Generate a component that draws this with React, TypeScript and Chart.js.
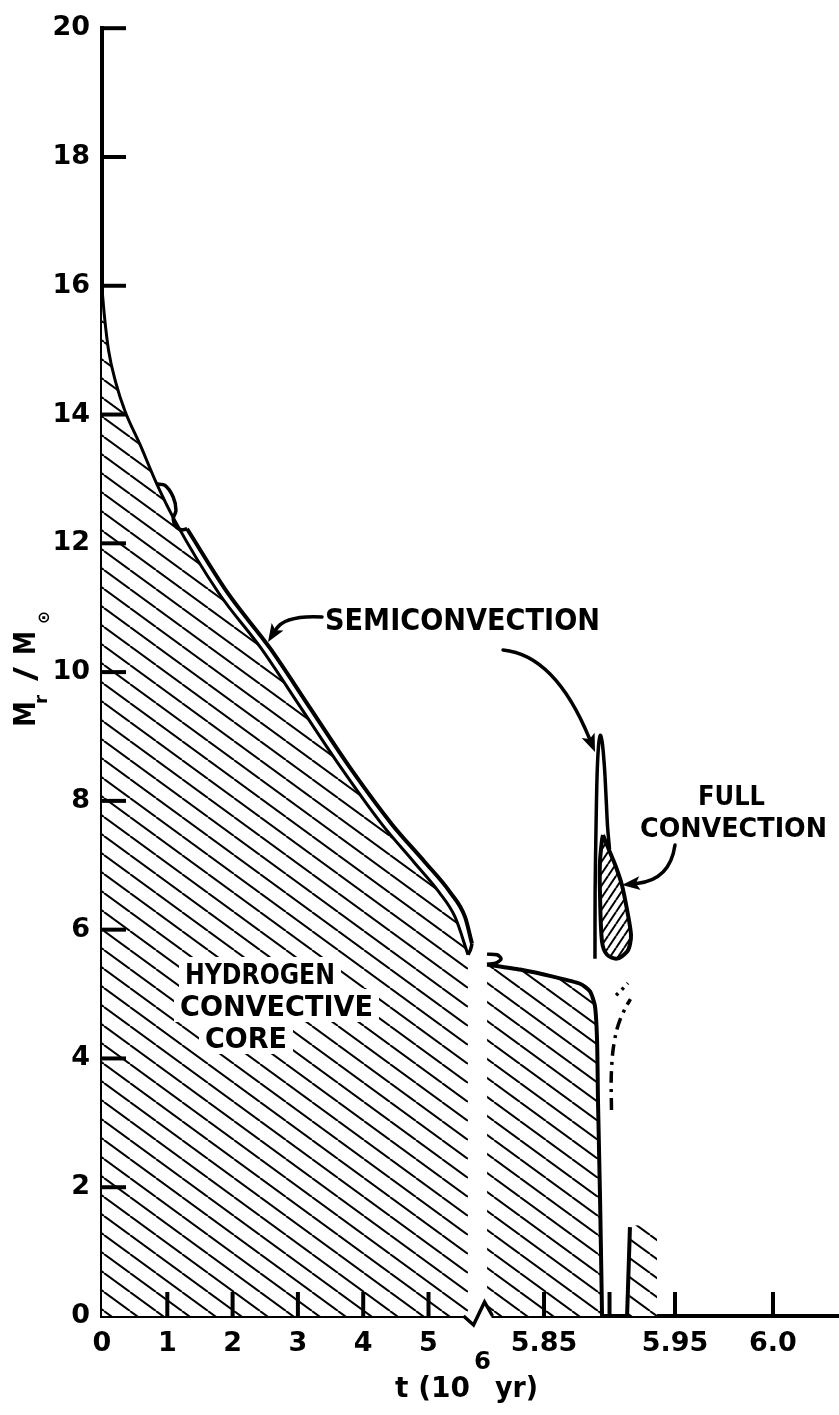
import React, { useEffect, useRef } from 'react';
import { Chart, registerables } from 'chart.js';

Chart.register(...registerables);

const W = 839;
const H = 1415;

// ---- broken time axis (t in 10^6 yr -> axis unit u) ----
const BREAK_T = 5.75;
const SEG2_T0 = 5.85;
const SEG2_U0 = 6.769;
const SEG2_RATE = 20.06;
const SEG3_T0 = 5.95;
const SEG3_U0 = 8.775;
const SEG3_RATE = 30.0;
const X_MAX_U = 11.286;
const BREAK_U = 5.72;

function toU(t: number): number {
  if (t <= BREAK_T) return t;
  if (t <= SEG3_T0) return SEG2_U0 + (t - SEG2_T0) * SEG2_RATE;
  return SEG3_U0 + (t - SEG3_T0) * SEG3_RATE;
}

// ---- ticks ----
const X_TICK_T = [0, 1, 2, 3, 4, 5, 5.85, 5.9, 5.95, 6.0];
const X_TICK_LABELS = ['0', '1', '2', '3', '4', '5', '5.85', '', '5.95', '6.0'];
const Y_TICK_VALUES = [0, 2, 4, 6, 8, 10, 12, 14, 16, 18, 20];

// ---- hydrogen convective core, main-sequence part (inner boundary) ----
const CORE1_T = [0, 0.04, 0.1, 0.21, 0.35, 0.58, 0.84, 1.118, 1.792, 2.435, 3.047, 3.66, 4.288, 4.778, 5.161, 5.406, 5.605];
const CORE1_M = [15.95, 15.5, 15.0, 14.5, 14.06, 13.54, 12.92, 12.349, 11.221, 10.371, 9.444, 8.516, 7.635, 7.048, 6.584, 6.198, 5.611];

// ---- semiconvection outer boundary, main-sequence part ----
const SEMI_LOOP_T = [0.84, 0.965, 1.09, 1.133, 1.09, 1.14, 1.22, 1.302];
const SEMI_LOOP_M = [12.92, 12.9, 12.72, 12.51, 12.38, 12.25, 12.21, 12.226];
const SEMI1_T = [1.302, 1.93, 2.573, 3.185, 3.798, 4.441, 4.946, 5.329, 5.559, 5.666];
const SEMI1_M = [12.226, 11.221, 10.371, 9.444, 8.516, 7.635, 7.048, 6.584, 6.198, 5.781];
const SEMI_TIP_T = [5.666, 5.64, 5.605];
const SEMI_TIP_M = [5.781, 5.68, 5.611];

// ---- core after the axis break ----
const CORE2_T = [5.8065, 5.8317, 5.8569, 5.8775, 5.8851, 5.8889, 5.8905, 5.8912, 5.8928, 5.8943];
const CORE2_M = [5.46, 5.38, 5.27, 5.16, 5.04, 4.81, 4.27, 3.34, 1.79, 0];

// small hook on top of the core after the break
const HOOK_T = [5.8065, 5.8141, 5.8172, 5.8141, 5.8065];
const HOOK_M = [5.62, 5.61, 5.55, 5.49, 5.46];

// ---- late small convective core ----
const SMALL_T = [5.915, 5.9363];
const SMALL_M = [1.4, 1.42];
const EDGE_T = [5.9134, 5.9156];
const EDGE_M = [0, 1.38];

// ---- semiconvective spike ----
const SPIKE_T = [5.8889, 5.889, 5.8897, 5.8905, 5.8916, 5.893, 5.8945, 5.8962, 5.8975, 5.8985, 5.9];
const SPIKE_M = [5.55, 6.6, 7.6, 8.4, 8.85, 9.02, 8.9, 8.5, 8.0, 7.6, 7.25];

// ---- full convection (closed loop) ----
const FULL_T = [5.895, 5.9004, 5.905, 5.9095, 5.9141, 5.9164, 5.9156, 5.9134, 5.9057, 5.8981, 5.8943, 5.8927, 5.8927, 5.8943, 5.895];
const FULL_M = [7.47, 7.2, 6.97, 6.69, 6.23, 5.92, 5.77, 5.66, 5.55, 5.61, 5.81, 6.58, 7.05, 7.4, 7.47];

// ---- dash-dot and dotted boundaries ----
const DASHDOT_T = [5.9015, 5.9013, 5.9025, 5.905, 5.908, 5.913, 5.916];
const DASHDOT_M = [3.2, 3.7, 4.1, 4.4, 4.6, 4.82, 4.92];
const DOT_T = [5.905, 5.9095, 5.9141];
const DOT_M = [4.98, 5.07, 5.17];

const FONT = 'DejaVu Sans';

function pts(t: number[], m: number[]) {
  return t.map((tt, i) => ({ x: toU(tt), y: m[i] }));
}

function makeHatch(w: number, h: number, dir: 'down' | 'up', lw: number): CanvasPattern | string {
  const c = document.createElement('canvas');
  c.width = w;
  c.height = h;
  const g = c.getContext('2d');
  if (!g) return '#fff';
  g.fillStyle = '#fff';
  g.fillRect(0, 0, w, h);
  g.strokeStyle = '#000';
  g.lineWidth = lw;
  for (const k of [-1, 0, 1]) {
    g.beginPath();
    if (dir === 'down') {
      g.moveTo(k * w, 0);
      g.lineTo(k * w + w, h);
    } else {
      g.moveTo(k * w, h);
      g.lineTo(k * w + w, 0);
    }
    g.stroke();
  }
  return g.createPattern(c, 'repeat') || '#fff';
}

function fitText(ctx: CanvasRenderingContext2D, s: string, left: number, baseline: number, width: number, size: number) {
  ctx.save();
  ctx.font = `bold ${size}px "${FONT}"`;
  const m = ctx.measureText(s).width;
  ctx.translate(left, baseline);
  ctx.scale(width / m, 1);
  ctx.textAlign = 'left';
  ctx.textBaseline = 'alphabetic';
  ctx.fillStyle = '#000';
  ctx.fillText(s, 0, 0);
  ctx.restore();
}

function arrow(ctx: CanvasRenderingContext2D, p0: number[], c: number[], p1: number[], head = 18, half = 7) {
  const dx = p1[0] - c[0];
  const dy = p1[1] - c[1];
  const len = Math.hypot(dx, dy);
  const ux = dx / len;
  const uy = dy / len;
  const bx = p1[0] - ux * head;
  const by = p1[1] - uy * head;
  ctx.save();
  ctx.strokeStyle = '#000';
  ctx.fillStyle = '#000';
  ctx.lineWidth = 3.5;
  ctx.lineCap = 'round';
  ctx.beginPath();
  ctx.moveTo(p0[0], p0[1]);
  ctx.quadraticCurveTo(c[0], c[1], bx + ux * 3, by + uy * 3);
  ctx.stroke();
  ctx.beginPath();
  ctx.moveTo(p1[0], p1[1]);
  ctx.lineTo(bx - uy * half, by + ux * half);
  ctx.lineTo(bx + ux * 4, by + uy * 4);
  ctx.lineTo(bx + uy * half, by - ux * half);
  ctx.closePath();
  ctx.fill();
  ctx.restore();
}

const decorPlugin = {
  id: 'decor',
  afterDraw(chart: any) {
    const { ctx, chartArea } = chart;
    const xs = chart.scales.x;
    const ys = chart.scales.y;
    const left = chartArea.left;
    const bottom = chartArea.bottom;
    ctx.save();
    ctx.strokeStyle = '#000';
    ctx.lineWidth = 4;
    ctx.lineCap = 'butt';
    // inward tick marks
    for (const v of Y_TICK_VALUES) {
      if (v === 0) continue;
      const py = ys.getPixelForValue(v);
      ctx.beginPath();
      ctx.moveTo(left, py);
      ctx.lineTo(left + 24, py);
      ctx.stroke();
    }
    for (const t of X_TICK_T) {
      if (t === 0) continue;
      const px = xs.getPixelForValue(toU(t));
      ctx.beginPath();
      ctx.moveTo(px, bottom);
      ctx.lineTo(px, bottom - 24);
      ctx.stroke();
    }
    // axis break zigzag
    const bx = xs.getPixelForValue(BREAK_U);
    ctx.fillStyle = '#fff';
    ctx.fillRect(bx - 10, bottom - 4, 26, 8);
    ctx.lineWidth = 3.5;
    ctx.lineJoin = 'miter';
    ctx.beginPath();
    ctx.moveTo(bx - 12, bottom);
    ctx.lineTo(bx - 2, bottom + 9);
    ctx.lineTo(bx + 9, bottom - 14);
    ctx.lineTo(bx + 17, bottom);
    ctx.stroke();

    // core label with white background
    const lines = [
      { s: 'HYDROGEN', l: 185, b: 984, w: 150 },
      { s: 'CONVECTIVE', l: 180, b: 1016, w: 193 },
      { s: 'CORE', l: 205, b: 1048, w: 82 },
    ];
    ctx.fillStyle = '#fff';
    for (const ln of lines) ctx.fillRect(ln.l - 6, ln.b - 27, ln.w + 12, 33);
    for (const ln of lines) fitText(ctx, ln.s, ln.l, ln.b, ln.w, 28);

    fitText(ctx, 'SEMICONVECTION', 325, 630, 275, 30);
    fitText(ctx, 'FULL', 698, 805, 67, 26);
    fitText(ctx, 'CONVECTION', 640, 837, 187, 26);

    arrow(ctx, [322, 617], [285, 615], [268, 642]);
    arrow(ctx, [503, 650], [555, 655], [595, 752]);
    arrow(ctx, [675, 845], [670, 880], [622, 885]);

    // x axis title: t (10^6 yr)
    fitText(ctx, 't (10', 395, 1397, 75, 28);
    fitText(ctx, '6', 474, 1369, 17, 24);
    fitText(ctx, 'yr)', 495, 1397, 43, 28);

    // y axis title: M_r / M_sun (rotated)
    ctx.save();
    ctx.translate(35, 727);
    ctx.rotate(-Math.PI / 2);
    fitText(ctx, 'M', 0, 0, 26, 30);
    fitText(ctx, 'r', 23, 12, 9, 18);
    fitText(ctx, '/', 46, 0, 14, 30);
    fitText(ctx, 'M', 72, 0, 24, 30);
    fitText(ctx, '\u2299', 103, 14, 13, 16);
    ctx.restore();

    ctx.restore();
  },
};

export default function App() {
  const ref = useRef<HTMLCanvasElement>(null);

  useEffect(() => {
    if (!ref.current) return;
    const hatchCore = makeHatch(26, 19, 'down', 2);
    const hatchFull = makeHatch(8, 12, 'up', 2);
    const base = { borderColor: '#000', pointRadius: 0, tension: 0.3, fill: false };
    const mono = { cubicInterpolationMode: 'monotone' };

    const chart = new Chart(ref.current, {
      type: 'line',
      data: {
        datasets: [
          { ...base, ...mono, data: pts(SEMI1_T, SEMI1_M), borderWidth: 4 },
          { ...base, data: pts(SEMI_LOOP_T, SEMI_LOOP_M), borderWidth: 3.5 },
          { ...base, data: pts(SEMI_TIP_T, SEMI_TIP_M), borderWidth: 3.5 },
          { ...base, data: pts(HOOK_T, HOOK_M), borderWidth: 3.5 },
          { ...base, data: pts(SPIKE_T, SPIKE_M), borderWidth: 3.5 },
          { ...base, data: pts(FULL_T, FULL_M), borderWidth: 4, fill: 'shape', backgroundColor: hatchFull },
          { ...base, data: pts(DASHDOT_T, DASHDOT_M), borderWidth: 3.5, borderDash: [12, 6, 3, 6] },
          { ...base, data: pts(DOT_T, DOT_M), borderWidth: 3.5, borderDash: [3, 5] },
          { ...base, data: pts(EDGE_T, EDGE_M), borderWidth: 4, tension: 0 },
          { ...base, data: pts(SMALL_T, SMALL_M), borderWidth: 0, borderColor: 'rgba(0,0,0,0)', tension: 0, fill: 'origin', backgroundColor: hatchCore },
          { ...base, data: pts(CORE2_T, CORE2_M), borderWidth: 4, tension: 0.2, fill: 'origin', backgroundColor: hatchCore },
          { ...base, ...mono, data: pts(CORE1_T, CORE1_M), borderWidth: 3, fill: 'origin', backgroundColor: hatchCore },
        ],
      },
      options: {
        animation: false,
        responsive: false,
        maintainAspectRatio: false,
        layout: { padding: { top: 22, right: 0, left: 0, bottom: 0 } },
        plugins: {
          legend: { display: false },
          tooltip: { enabled: false },
          title: { display: false },
        },
        scales: {
          x: {
            type: 'linear',
            min: 0,
            max: X_MAX_U,
            afterBuildTicks: (s: any) => {
              s.ticks = X_TICK_T.map((t) => ({ value: toU(t) }));
            },
            afterFit: (s: any) => {
              s.height = 99;
            },
            grid: { display: false, drawTicks: false },
            border: { display: true, color: '#000', width: 4 },
            ticks: {
              autoSkip: false,
              maxRotation: 0,
              minRotation: 0,
              padding: 12,
              color: '#000',
              font: { family: FONT, weight: 'bold', size: 27 },
              callback: (v: any) => {
                const i = X_TICK_T.findIndex((t) => Math.abs(toU(t) - v) < 1e-6);
                return i >= 0 ? X_TICK_LABELS[i] : '';
              },
            },
          },
          y: {
            type: 'linear',
            min: 0,
            max: 20,
            afterBuildTicks: (s: any) => {
              s.ticks = Y_TICK_VALUES.map((v) => ({ value: v }));
            },
            afterFit: (s: any) => {
              s.width = 102;
            },
            grid: { display: false, drawTicks: false },
            border: { display: true, color: '#000', width: 4 },
            ticks: {
              padding: 12,
              color: '#000',
              font: { family: FONT, weight: 'bold', size: 27 },
              callback: (v: any) => String(v),
            },
          },
        },
      } as any,
      plugins: [decorPlugin],
    } as any);
    return () => chart.destroy();
  }, []);

  return (
    <div style={{ position: 'absolute', left: 0, top: 0, width: W, height: H, background: '#fff' }}>
      <canvas ref={ref} width={W} height={H} style={{ display: 'block', width: W, height: H }} />
    </div>
  );
}
